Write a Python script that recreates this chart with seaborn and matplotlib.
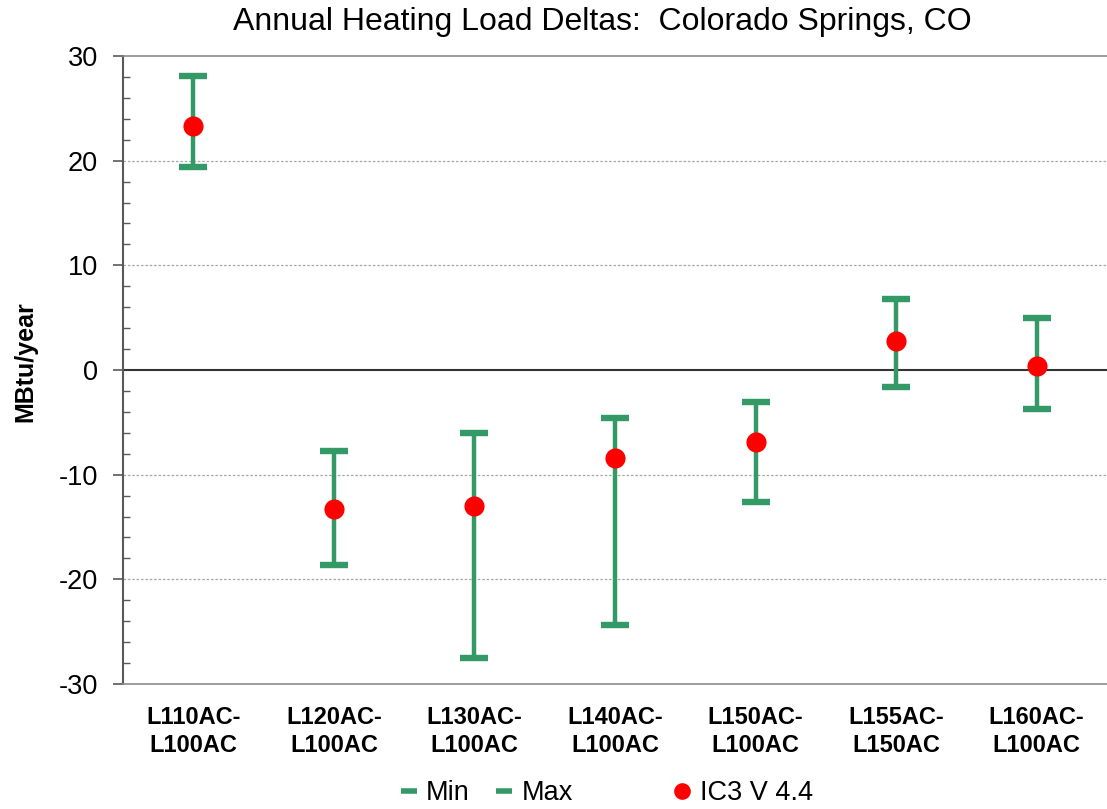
import numpy as np
import pandas as pd
import matplotlib
matplotlib.use("Agg")
import matplotlib.pyplot as plt
from matplotlib.lines import Line2D
from matplotlib.ticker import MultipleLocator
import seaborn as sns

# ------------------------------
# Data
# ------------------------------
categories = ["L110AC-\nL100AC", "L120AC-\nL100AC", "L130AC-\nL100AC",
              "L140AC-\nL100AC", "L150AC-\nL100AC", "L155AC-\nL150AC",
              "L160AC-\nL100AC"]
min_vals = [19.4, -18.6, -27.5, -24.4, -12.6, -1.6, -3.7]
max_vals = [28.1, -7.7, -6.0, -4.6, -3.1, 6.8, 5.0]
ic3_vals = [23.3, -13.3, -13.0, -8.4, -6.9, 2.8, 0.4]

green = "#339966"
red = "#ff0000"

df = pd.DataFrame({"pos": np.arange(len(categories)),
                   "Min": min_vals, "Max": max_vals, "IC3": ic3_vals})

sns.set_style("white")
plt.rcParams["font.family"] = ["Liberation Sans", "DejaVu Sans"]
plt.rcParams["axes.unicode_minus"] = False
plt.rcParams["text.color"] = "black"
plt.rcParams["xtick.color"] = "black"
plt.rcParams["ytick.color"] = "black"

fig = plt.figure(figsize=(11.07, 8.09), dpi=100)
ax = fig.add_axes([123 / 1107, 1 - 684 / 809, 1 - 123 / 1107, (684 - 56) / 809])

# high-low lines
ax.vlines(df["pos"], df["Min"], df["Max"], color=green, lw=3.2, zorder=2)

# min / max caps
sns.scatterplot(data=df, x="pos", y="Min", marker="_", s=380, color=green,
                linewidth=4.6, ax=ax, zorder=3, legend=False)
sns.scatterplot(data=df, x="pos", y="Max", marker="_", s=380, color=green,
                linewidth=4.6, ax=ax, zorder=3, legend=False)
# IC3 points
sns.scatterplot(data=df, x="pos", y="IC3", marker="o", s=210, color=red,
                edgecolor=red, linewidth=0, ax=ax, zorder=4, legend=False)

ax.set_xlim(-0.5, len(categories) - 0.5)
ax.set_ylim(-30, 30)
ax.set_xticks(df["pos"])
ax.set_xticklabels(categories, fontsize=17, fontweight="bold", linespacing=1.25)
ax.tick_params(axis="x", length=0, pad=16, labelcolor="black")

ax.yaxis.set_major_locator(MultipleLocator(10))
ax.yaxis.set_minor_locator(MultipleLocator(2))
ax.tick_params(axis="y", which="major", direction="out", length=7, width=1.2,
               color="#595959", labelsize=19.5, pad=11, left=True, labelcolor="black")
ax.tick_params(axis="y", which="minor", direction="in", length=5, width=1.0,
               color="#595959", left=True)

for y in [-20, -10, 10, 20]:
    ax.axhline(y, color="#a6a6a6", lw=0.9, ls=(0, (2, 1.5)), zorder=1)
ax.axhline(0, color="#333333", lw=1.5, zorder=1)

for side in ["top", "bottom"]:
    ax.spines[side].set_color("#8c8c8c")
    ax.spines[side].set_linewidth(1.2)
ax.spines["left"].set_color("#595959")
ax.spines["left"].set_linewidth(1.5)
ax.spines["right"].set_visible(False)

ax.set_xlabel("")
ax.set_ylabel("")
fig.text(25 / 1107, 1 - 362 / 809, "MBtu/year", rotation=90, ha="center",
         va="center", fontsize=18, fontweight="bold", color="black")
fig.text(602 / 1107, 1 - 22 / 809, "Annual Heating Load Deltas:  Colorado Springs, CO",
         ha="center", va="center", fontsize=23, color="black")

# legends
h_min = Line2D([], [], color=green, marker="_", ls="none", markersize=12, markeredgewidth=4)
h_max = Line2D([], [], color=green, marker="_", ls="none", markersize=12, markeredgewidth=4)
h_ic3 = Line2D([], [], color=red, marker="o", ls="none", markersize=12, markeredgewidth=0)
fig.legend([h_min, h_max], ["Min", "Max"], loc="center", ncol=2,
           bbox_to_anchor=(486 / 1107, 16 / 809), frameon=False, fontsize=19.5,
           handlelength=0.7, handletextpad=0.3, columnspacing=0.9)
fig.legend([h_ic3], ["IC3 V 4.4"], loc="center",
           bbox_to_anchor=(743 / 1107, 16 / 809), frameon=False, fontsize=19.5,
           handlelength=0.7, handletextpad=0.3)

fig.savefig("out.png", dpi=100)
